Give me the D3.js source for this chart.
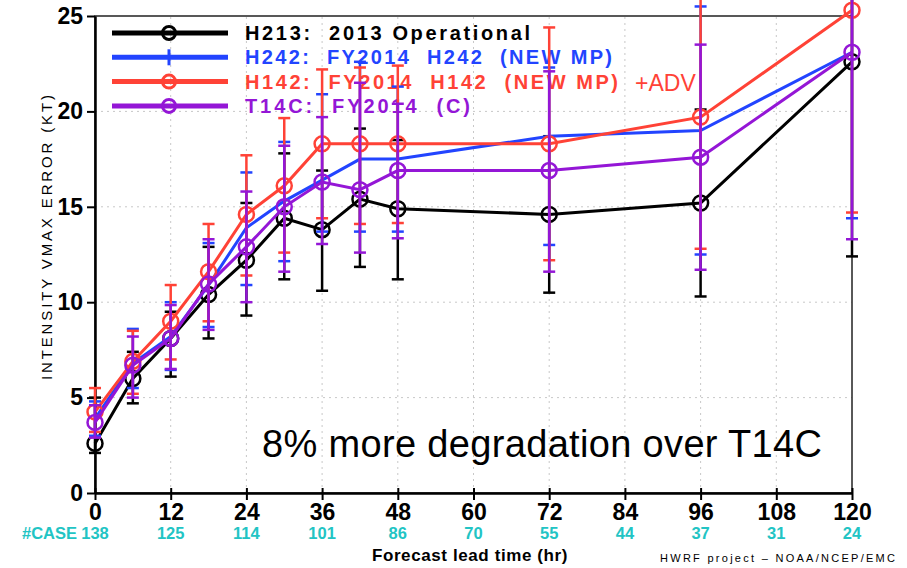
<!DOCTYPE html>
<html>
<head>
<meta charset="utf-8">
<script src="https://cdn.jsdelivr.net/npm/d3@7"></script>
<style>
  body { margin: 0; background: #fff; }
  text { font-family: "Liberation Sans", Arial, sans-serif; }
</style>
</head>
<body>
<div id="chart"></div>
<script>
// forecast lead times (hr)
var leads = [0, 6, 12, 18, 24, 30, 36, 42, 48, 72, 96, 120];
var xTicks = [0, 12, 24, 36, 48, 60, 72, 84, 96, 108, 120];
var cases = [138, 125, 114, 101, 86, 70, 55, 44, 37, 31, 24];
var yTicks = [0, 5, 10, 15, 20, 25];

// H213: 2013 Operational
var h213 = [2.6, 6.0, 8.1, 10.4, 12.2, 14.4, 13.8, 15.4, 14.9, 14.6, 15.2, 22.6];
var h213Lo = [2.1, 4.7, 6.1, 8.1, 9.3, 11.2, 10.6, 11.85, 11.2, 10.5, 10.3, 12.4];
var h213Hi = [5.0, 7.4, 9.5, 12.9, 15.2, 17.8, 16.9, 19.1, 18.5, 18.7, 20.1, 33];
// H242: FY2014 H242 (NEW MP)
var h242 = [3.9, 6.8, 8.2, 10.9, 13.9, 15.3, 16.4, 17.5, 17.5, 18.7, 19.0, 23.1];
var h242Lo = [3.0, 5.5, 6.45, 8.7, 10.9, 12.15, 13.7, 13.7, 13.7, 13.0, 12.5, 14.4];
var h242Hi = [4.8, 8.6, 10.0, 13.1, 16.8, 18.4, 20.9, 22.6, 21.3, 22.3, 25.5, 32];
// H142: FY2014 H142 (NEW MP) +ADV
var h142 = [4.25, 6.9, 9.0, 11.6, 14.6, 16.1, 18.3, 18.3, 18.3, 18.3, 19.7, 25.3];
var h142Lo = [3.2, 5.2, 7.0, 9.0, 11.4, 12.6, 14.4, 14.1, 14.15, 12.2, 12.8, 14.7];
var h142Hi = [5.5, 8.5, 10.9, 14.1, 17.7, 19.65, 22.2, 22.3, 22.4, 24.4, 27, 36];
// T14C: FY2014 (C)
var t14c = [3.7, 6.7, 8.1, 10.95, 12.9, 15.0, 16.3, 15.9, 16.9, 16.9, 17.6, 23.1];
var t14cLo = [2.9, 5.0, 6.5, 8.55, 10.0, 11.6, 13.05, 12.6, 13.35, 11.6, 11.7, 13.3];
var t14cHi = [4.6, 8.2, 9.85, 13.3, 15.8, 18.2, 19.7, 21.5, 20.4, 22.1, 23.5, 33];

var series = [
  { label: "H213:  2013 Operational", len: 285, extra: "", color: "#000000", marker: "circle", v: h213, lo: h213Lo, hi: h213Hi },
  { label: "H242:  FY2014  H242  (NEW MP)", len: 367, extra: "", color: "#2244ff", marker: "plus", v: h242, lo: h242Lo, hi: h242Hi },
  { label: "H142:  FY2014  H142  (NEW MP)", len: 373, extra: "+ADV", color: "#ff4236", marker: "circle", v: h142, lo: h142Lo, hi: h142Hi },
  { label: "T14C:  FY2014  (C)", len: 225, extra: "", color: "#9416d6", marker: "circle", v: t14c, lo: t14cLo, hi: t14cHi }
];

var W = 907, H = 568;
var margin = { top: 16, right: 55, bottom: 75, left: 95 };

var svg = d3.select("#chart").append("svg")
  .attr("width", W)
  .attr("height", H);

var x = d3.scaleLinear().domain([0, 120]).range([margin.left, W - margin.right]);
var y = d3.scaleLinear().domain([0, 25]).range([H - margin.bottom, margin.top]);

// dotted grid
svg.append("g").selectAll("line.gx")
  .data(xTicks.slice(1, -1))
  .join("line")
  .attr("x1", d => x(d)).attr("x2", d => x(d))
  .attr("y1", y(0)).attr("y2", y(25))
  .attr("stroke", "#c8c8c8").attr("stroke-width", 1).attr("stroke-dasharray", "2,4");
svg.append("g").selectAll("line.gy")
  .data(yTicks.slice(1, -1))
  .join("line")
  .attr("x1", x(0)).attr("x2", x(120))
  .attr("y1", d => y(d)).attr("y2", d => y(d))
  .attr("stroke", "#c8c8c8").attr("stroke-width", 1).attr("stroke-dasharray", "2,4");

// frame
svg.append("rect")
  .attr("x", x(0)).attr("y", y(25))
  .attr("width", x(120) - x(0)).attr("height", y(0) - y(25))
  .attr("fill", "none").attr("stroke", "#222").attr("stroke-width", 1.5);

// axes
var xAxis = svg.append("g")
  .attr("transform", "translate(0," + y(0) + ")")
  .call(d3.axisBottom(x).tickValues(xTicks).tickSize(7).tickSizeOuter(0).tickPadding(4));
xAxis.select(".domain").attr("stroke-width", 2.5);
xAxis.selectAll(".tick line").attr("stroke-width", 2).attr("y1", -5);
xAxis.selectAll(".tick text")
  .attr("font-family", "'Liberation Sans Narrow', 'Liberation Sans', sans-serif")
  .attr("font-size", 23).attr("font-weight", "bold").attr("fill", "#000");

var yAxis = svg.append("g")
  .attr("transform", "translate(" + x(0) + ",0)")
  .call(d3.axisLeft(y).tickValues(yTicks).tickSize(8).tickSizeOuter(0).tickPadding(4));
yAxis.select(".domain").attr("stroke-width", 2.5);
yAxis.selectAll(".tick line").attr("stroke-width", 2);
yAxis.selectAll(".tick text")
  .attr("font-family", "'Liberation Sans Narrow', 'Liberation Sans', sans-serif")
  .attr("font-size", 23).attr("font-weight", "bold").attr("fill", "#000");

// case counts
svg.append("text")
  .attr("x", 77).attr("y", 539)
  .attr("text-anchor", "end")
  .attr("font-family", "'Liberation Sans Narrow', 'Liberation Sans', sans-serif")
  .attr("font-size", 16.5).attr("font-weight", "bold").attr("fill", "#22c4c4")
  .text("#CASE");
svg.append("g").selectAll("text")
  .data(cases)
  .join("text")
  .attr("x", (d, i) => x(xTicks[i]))
  .attr("y", 539)
  .attr("text-anchor", "middle")
  .attr("font-family", "'Liberation Sans Narrow', 'Liberation Sans', sans-serif")
  .attr("font-size", 16.5).attr("font-weight", "bold").attr("fill", "#22c4c4")
  .text(d => d);

// axis titles
svg.append("text")
  .attr("x", 470).attr("y", 561)
  .attr("text-anchor", "middle")
  .attr("font-size", 17).attr("font-weight", "bold")
  .attr("letter-spacing", 0.6)
  .text("Forecast lead time (hr)");
svg.append("text")
  .attr("transform", "translate(52,380) rotate(-90)")
  .attr("font-size", 15)
  .attr("textLength", 285)
  .text("INTENSITY VMAX ERROR (KT)");
svg.append("text")
  .attr("x", 660).attr("y", 562)
  .attr("font-size", 11)
  .attr("textLength", 235)
  .text("HWRF project \u2013 NOAA/NCEP/EMC");

// legend
var leg = svg.append("g");
series.forEach(function (s, i) {
  var ly = 33 + i * 24.3;
  leg.append("line")
    .attr("x1", 112).attr("x2", 228).attr("y1", ly).attr("y2", ly)
    .attr("stroke", s.color).attr("stroke-width", 5);
  if (s.marker === "circle") {
    leg.append("circle").attr("cx", 169).attr("cy", ly).attr("r", 6.5)
      .attr("fill", "none").attr("stroke", s.color).attr("stroke-width", 3);
  } else {
    leg.append("line").attr("x1", 169).attr("x2", 169).attr("y1", ly - 8).attr("y2", ly + 8)
      .attr("stroke", s.color).attr("stroke-width", 3);
  }
  leg.append("text")
    .attr("x", 245).attr("y", ly + 7)
    .attr("font-size", 20).attr("font-weight", "bold")
    .attr("fill", s.color)
    .attr("textLength", s.len)
    .style("white-space", "pre")
    .text(s.label);
  if (s.extra) {
    leg.append("text")
      .attr("x", 635).attr("y", ly + 9)
      .attr("font-family", "Lato, 'Open Sans', sans-serif")
      .attr("font-size", 23)
      .attr("fill", s.color)
      .text(s.extra);
  }
});

// lines, error bars, markers
var line = d3.line()
  .x((d, i) => x(leads[i]))
  .y(d => y(d));

series.forEach(function (s) {
  var g = svg.append("g");
  g.append("path")
    .datum(s.v)
    .attr("fill", "none")
    .attr("stroke", s.color)
    .attr("stroke-width", 3)
    .attr("d", line);

  var bars = leads.map((l, i) => ({ l: l, lo: s.lo[i], hi: s.hi[i] }));
  g.selectAll("line.bar")
    .data(bars)
    .join("line")
    .attr("x1", d => x(d.l)).attr("x2", d => x(d.l))
    .attr("y1", d => y(d.lo)).attr("y2", d => y(d.hi))
    .attr("stroke", s.color).attr("stroke-width", 2.5);
  g.selectAll("line.capLo")
    .data(bars)
    .join("line")
    .attr("x1", d => x(d.l) - 6).attr("x2", d => x(d.l) + 6)
    .attr("y1", d => y(d.lo)).attr("y2", d => y(d.lo))
    .attr("stroke", s.color).attr("stroke-width", 2.5);
  g.selectAll("line.capHi")
    .data(bars)
    .join("line")
    .attr("x1", d => x(d.l) - 6).attr("x2", d => x(d.l) + 6)
    .attr("y1", d => y(d.hi)).attr("y2", d => y(d.hi))
    .attr("stroke", s.color).attr("stroke-width", 2.5);

  if (s.marker === "circle") {
    g.selectAll("circle")
      .data(s.v)
      .join("circle")
      .attr("cx", (d, i) => x(leads[i]))
      .attr("cy", d => y(d))
      .attr("r", 7.5)
      .attr("fill", "none")
      .attr("stroke", s.color)
      .attr("stroke-width", 2.5);
  }
});

// annotation
svg.append("text")
  .attr("x", 262).attr("y", 457)
  .attr("font-family", "Lato, 'Open Sans', sans-serif")
  .attr("font-size", 38)
  .attr("fill", "#000")
  .attr("textLength", 560)
  .text("8% more degradation over T14C");
</script>
</body>
</html>
